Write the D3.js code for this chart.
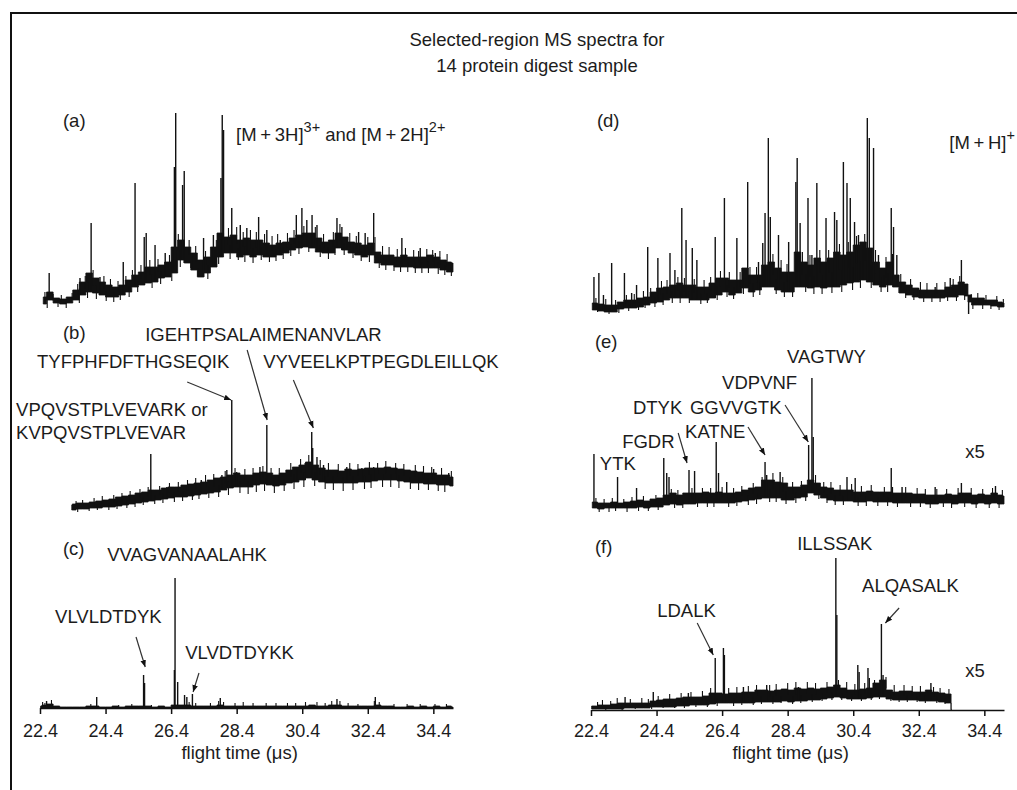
<!DOCTYPE html>
<html>
<head>
<meta charset="utf-8">
<script src="https://cdn.jsdelivr.net/npm/d3@7"></script>
<style>
  body { margin: 0; background: #fff; }
  svg { display: block; }
</style>
</head>
<body>
<svg id="chart" width="1017" height="790"></svg>
<script>
const FONT = '"Liberation Sans", Arial, sans-serif';

const tickValues = [22.4, 24.4, 26.4, 28.4, 30.4, 32.4, 34.4];
const titleLines = ['Selected-region MS spectra for', '14 protein digest sample'];
const axisTitle = 'flight time (\u03bcs)';

// noise band of each trace: [flight time, band low, band high]
const bandA = [[22.5,8,15],[22.7,12,20],[22.9,9,14],[23.1,8,13],[23.3,9,15],[23.5,12,22],[23.7,17,30],[23.9,20,39],[24.1,19,34],[24.3,17,30],[24.5,15,27],[24.7,15,25],[24.9,17,27],[25.1,20,32],[25.3,25,37],[25.5,27,40],[25.7,29,45],[25.9,30,45],[26.1,34,47],[26.3,35,50],[26.5,39,65],[26.7,52,72],[26.9,49,65],[27.1,42,59],[27.3,35,52],[27.5,39,55],[27.7,45,65],[27.9,55,79],[28.1,59,75],[28.3,59,77],[28.5,55,72],[28.7,57,74],[28.9,55,72],[29.1,57,72],[29.3,55,69],[29.5,55,67],[29.7,57,69],[29.9,59,70],[30.1,62,74],[30.3,64,77],[30.5,65,79],[30.7,64,79],[30.9,60,74],[31.1,59,70],[31.3,59,72],[31.5,64,79],[31.7,62,75],[31.9,59,70],[32.1,57,69],[32.3,55,67],[32.5,57,69],[32.7,49,60],[32.9,47,57],[33.1,47,57],[33.3,45,55],[33.5,45,57],[33.7,45,55],[33.9,44,55],[34.1,44,55],[34.3,44,57],[34.5,44,55],[34.7,42,52],[34.9,40,50],[35.0,40,49]];
const bandB = [[23.37,5,10],[23.4,5,11],[23.6,6,12],[23.8,6,12],[24.0,7,13],[24.2,7,14],[24.4,8,15],[24.6,8,16],[24.8,9,18],[25.0,10,19],[25.2,11,20],[25.4,12,22],[25.6,13,23],[25.8,14,25],[26.0,15,25],[26.2,16,27],[26.4,17,28],[26.6,18,28],[26.8,18,30],[27.0,19,31],[27.2,20,32],[27.4,21,33],[27.6,22,35],[27.8,23,37],[28.0,25,38],[28.2,27,40],[28.4,28,42],[28.6,28,40],[28.8,28,40],[29.0,30,42],[29.2,31,43],[29.4,30,42],[29.6,29,40],[29.8,30,42],[30.0,32,45],[30.2,33,48],[30.4,35,50],[30.6,37,53],[30.8,35,50],[31.0,33,47],[31.2,32,45],[31.4,32,45],[31.6,32,44],[31.8,32,46],[32.0,32,45],[32.2,33,46],[32.4,33,47],[32.6,34,47],[32.8,35,47],[33.0,35,48],[33.2,35,47],[33.4,34,46],[33.6,33,45],[33.8,32,44],[34.0,32,43],[34.2,31,42],[34.4,31,42],[34.6,30,40],[34.8,30,40],[35.0,29,38]];
const bandC = [[22.42,0,2],[22.5,0,3],[22.7,0,4],[22.9,0,2],[23.1,0,1],[23.3,0,1],[23.5,0,1],[23.7,0,1],[23.9,0,2],[24.1,0,2],[24.3,0,1],[24.5,0,1],[24.7,0,2],[24.9,0,1],[25.1,0,2],[25.3,0,2],[25.5,0,2],[25.7,0,2],[25.9,0,1],[26.1,0,2],[26.3,0,1],[26.5,0,3],[26.7,0,3],[26.9,0,3],[27.1,0,2],[27.3,0,2],[27.5,0,2],[27.7,0,2],[27.9,0,3],[28.1,0,2],[28.3,0,2],[28.5,0,2],[28.7,0,2],[28.9,0,2],[29.1,0,2],[29.3,0,2],[29.5,0,2],[29.7,0,2],[29.9,0,2],[30.1,0,2],[30.3,0,2],[30.5,0,2],[30.7,0,3],[30.9,0,2],[31.1,0,2],[31.3,0,3],[31.5,0,3],[31.7,0,2],[31.9,0,2],[32.1,0,2],[32.3,0,2],[32.5,0,2],[32.7,0,3],[32.9,0,2],[33.1,0,2],[33.3,0,1],[33.5,0,1],[33.7,0,2],[33.9,0,1],[34.1,0,2],[34.3,0,1],[34.5,0,2],[34.7,0,1],[34.9,0,2],[35.0,0,1]];
const bandD = [[22.44,2,9],[22.5,2,9],[22.7,1,8],[22.9,0,7],[23.1,0,7],[23.3,3,10],[23.5,4,12],[23.7,4,12],[23.9,5,14],[24.1,7,15],[24.3,9,20],[24.5,10,24],[24.7,12,25],[24.9,14,27],[25.1,14,29],[25.3,14,27],[25.5,12,27],[25.7,12,25],[25.9,12,25],[26.1,14,29],[26.3,17,34],[26.5,20,34],[26.7,17,32],[26.9,19,32],[27.1,24,44],[27.3,20,37],[27.5,22,37],[27.7,25,47],[27.9,25,50],[28.1,22,44],[28.3,20,40],[28.5,20,40],[28.7,25,60],[28.9,25,50],[29.1,24,47],[29.3,25,54],[29.5,24,50],[29.7,25,54],[29.9,25,60],[30.1,27,57],[30.3,29,60],[30.5,30,67],[30.7,32,70],[30.9,30,64],[31.1,27,50],[31.3,25,44],[31.5,27,50],[31.7,25,37],[31.9,19,30],[32.1,17,27],[32.3,15,24],[32.5,14,22],[32.7,14,22],[32.9,14,22],[33.1,14,22],[33.3,15,25],[33.5,15,27],[33.7,17,30],[33.88,16,28],[33.92,10,17],[34.1,7,14],[34.3,7,14],[34.5,7,12],[34.7,6,12],[34.9,5,10],[35.0,5,9]];
const bandE = [[22.44,7,13],[22.5,7,13],[22.7,6,12],[22.9,7,12],[23.1,7,13],[23.3,7,12],[23.5,7,13],[23.7,7,14],[23.9,8,15],[24.1,7,14],[24.3,8,16],[24.5,8,17],[24.7,10,20],[24.9,11,22],[25.1,10,20],[25.3,11,22],[25.5,11,22],[25.7,12,22],[25.9,12,23],[26.1,12,22],[26.3,12,23],[26.5,12,22],[26.7,12,22],[26.9,13,23],[27.1,14,25],[27.3,15,27],[27.5,16,28],[27.7,17,35],[27.9,17,35],[28.1,17,33],[28.3,15,32],[28.5,15,28],[28.7,17,28],[28.9,18,30],[29.1,22,35],[29.3,20,32],[29.5,17,28],[29.7,15,27],[29.9,14,25],[30.1,14,25],[30.3,14,25],[30.5,13,23],[30.7,13,23],[30.9,14,24],[31.1,13,23],[31.3,13,23],[31.5,13,23],[31.7,12,22],[31.9,12,22],[32.1,12,22],[32.3,12,21],[32.5,12,21],[32.7,11,20],[32.9,11,20],[33.1,12,20],[33.3,12,21],[33.5,11,20],[33.7,12,22],[33.9,12,22],[34.1,11,20],[34.3,12,21],[34.5,11,20],[34.7,12,22],[34.9,11,20],[35.0,11,19]];
const bandF = [[22.42,1,4],[22.5,1,4],[22.7,1,5],[22.9,1,5],[23.1,1,6],[23.3,1,7],[23.5,2,7],[23.7,2,7],[23.9,2,7],[24.1,2,7],[24.3,3,9],[24.5,3,10],[24.7,3,11],[24.9,3,11],[25.1,4,12],[25.3,4,13],[25.5,5,13],[25.7,5,13],[25.9,5,14],[26.1,6,17],[26.3,7,17],[26.5,7,16],[26.7,7,17],[26.9,7,17],[27.1,7,18],[27.3,7,18],[27.5,8,20],[27.7,8,20],[27.9,8,19],[28.1,8,20],[28.3,9,21],[28.5,8,20],[28.7,9,22],[28.9,9,21],[29.1,10,22],[29.3,10,21],[29.5,11,22],[29.7,12,23],[29.9,13,25],[30.1,12,22],[30.3,11,20],[30.5,11,20],[30.7,11,21],[30.9,12,22],[31.1,13,27],[31.3,13,30],[31.5,11,20],[31.7,10,18],[31.9,10,19],[32.1,10,19],[32.3,10,18],[32.5,9,18],[32.7,9,20],[32.9,9,18],[33.1,8,17],[33.3,7,16],[33.38,7,16],[33.39,0,1]];

// sharp peaks: [flight time, intensity]
const peaksA = [[22.68,39],[23.62,34],[23.96,89],[24.23,35],[24.94,50],[25.30,129],[25.58,75],[25.64,79],[25.91,67],[26.22,59],[26.50,145],[26.54,199],[26.75,127],[26.80,141],[27.03,59],[27.39,74],[27.69,77],[27.92,134],[27.96,197],[28.00,182],[28.25,104],[28.51,87],[28.71,84],[29.07,95],[29.32,82],[29.73,72],[30.22,97],[30.39,104],[30.54,92],[30.70,97],[30.85,87],[31.46,94],[31.61,85],[31.76,75],[32.12,80],[32.32,79],[32.58,99],[33.44,74],[34.00,64],[34.46,59]];
const peaksB = [[25.78,61],[26.27,28],[27.32,35],[27.95,40],[28.10,45],[28.25,115],[28.40,43],[29.11,48],[29.32,90],[30.24,48],[30.49,52],[30.69,83],[30.72,67],[30.85,58],[31.05,50],[31.76,48],[32.22,47],[32.58,48],[33.29,45],[34.41,46],[34.87,42]];
const peaksC = [[22.6,7],[24.13,11],[25.56,33],[25.59,25],[26.50,38],[26.52,130],[26.60,26],[26.81,13],[26.88,11],[27.05,14],[27.90,10],[31.46,9],[32.63,11]];
const peaksD = [[22.49,35],[22.64,39],[22.78,17],[23.03,49],[23.42,39],[23.64,19],[23.79,27],[24.13,65],[24.44,54],[24.81,59],[24.96,42],[25.17,104],[25.30,72],[25.49,64],[25.63,52],[26.19,75],[26.47,114],[26.85,74],[27.18,130],[27.51,50],[27.64,69],[27.71,99],[27.81,174],[27.87,95],[28.12,77],[28.43,70],[28.65,130],[28.69,154],[28.78,89],[29.02,114],[29.14,57],[29.29,129],[29.57,94],[29.83,100],[29.90,92],[30.10,150],[30.21,129],[30.31,114],[30.44,90],[30.56,77],[30.70,67],[30.83,194],[30.89,174],[31.02,164],[31.17,57],[31.33,37],[31.56,104],[31.63,85],[31.73,57],[32.39,24],[32.90,25],[33.36,34],[33.70,52],[33.92,-2]];
const peaksE = [[22.49,61],[23.21,38],[23.79,27],[24.62,57],[24.71,42],[24.78,38],[25.39,45],[25.56,44],[26.22,73],[26.29,42],[26.54,33],[27.71,53],[27.76,40],[28.17,43],[29.04,70],[29.14,137],[29.18,78],[30.21,38],[30.46,37],[31.56,47],[31.89,28],[32.90,28],[33.70,32],[34.74,29]];
const peaksF = [[23.44,13],[24.30,18],[25.37,17],[26.19,52],[26.44,62],[26.47,55],[27.05,23],[27.76,25],[28.73,23],[29.87,152],[29.90,95],[30.54,45],[30.58,38],[30.85,42],[30.89,32],[31.26,86],[31.31,35],[32.77,27]];

// small noise spikes on each trace: [flight time, tip intensity]
const fuzzA = [[22.55,20],[22.62,4],[22.8,18],[22.95,5],[23.05,17],[23.2,4],[23.38,19],[23.55,28],[23.6,9],[23.78,36],[23.85,14],[24.02,42],[24.12,13],[24.35,36],[24.42,11],[24.55,33],[24.65,10],[24.78,31],[24.85,12],[25.02,36],[25.12,15],[25.22,42],[25.38,20],[25.48,47],[25.75,52],[25.82,24],[26.0,53],[26.08,28],[26.35,57],[26.42,31],[26.62,78],[26.68,45],[26.95,72],[27.0,44],[27.15,66],[27.22,36],[27.45,61],[27.52,33],[27.78,72],[27.85,48],[28.15,84],[28.2,53],[28.4,85],[28.45,52],[28.6,80],[28.65,50],[28.82,82],[28.9,49],[29.0,80],[29.15,52],[29.25,78],[29.4,50],[29.48,76],[29.6,51],[29.65,78],[29.82,53],[29.95,79],[30.05,56],[30.15,82],[30.3,58],[30.45,86],[30.6,60],[30.8,85],[30.95,55],[31.05,78],[31.2,53],[31.35,80],[31.4,57],[31.55,88],[31.68,57],[31.85,79],[31.95,54],[32.05,76],[32.2,51],[32.4,75],[32.45,50],[32.62,75],[32.75,44],[32.85,66],[32.95,42],[33.05,65],[33.2,41],[33.3,63],[33.4,40],[33.55,64],[33.62,40],[33.8,62],[33.85,39],[33.95,61],[34.05,39],[34.2,63],[34.25,39],[34.38,62],[34.55,38],[34.6,61],[34.75,37],[34.82,58],[34.95,36]];
const fuzzB = [[23.5,14],[23.55,3],[23.7,15],[23.9,4],[24.05,17],[24.15,5],[24.3,19],[24.5,5],[24.65,20],[24.75,6],[24.9,22],[25.05,7],[25.15,24],[25.3,8],[25.45,26],[25.55,10],[25.7,28],[25.9,11],[26.05,29],[26.15,12],[26.35,32],[26.5,13],[26.62,33],[26.75,14],[26.9,35],[27.05,15],[27.15,37],[27.25,16],[27.45,40],[27.55,17],[27.7,41],[27.85,18],[28.05,44],[28.15,20],[28.35,47],[28.5,22],[28.65,46],[28.75,21],[28.9,47],[29.0,23],[29.2,49],[29.25,24],[29.45,47],[29.55,22],[29.7,47],[29.85,24],[30.05,52],[30.15,26],[30.35,56],[30.45,28],[30.6,60],[30.78,29],[30.95,55],[31.1,26],[31.2,52],[31.35,25],[31.5,51],[31.65,24],[31.85,52],[31.95,25],[32.1,51],[32.3,26],[32.45,53],[32.5,27],[32.7,52],[32.85,28],[32.95,54],[33.1,28],[33.25,52],[33.35,27],[33.5,51],[33.7,26],[33.85,50],[33.95,25],[34.1,49],[34.25,25],[34.35,48],[34.55,24],[34.65,47],[34.75,23],[34.95,44]];
const fuzzC = [[22.48,6],[22.55,5],[22.75,8],[23.95,4],[24.8,3],[25.2,4],[25.8,3],[26.95,6],[27.15,5],[27.6,5],[27.85,7],[28.0,6],[28.35,5],[28.6,6],[28.9,5],[29.3,5],[29.6,5],[29.95,5],[30.2,5],[30.5,6],[30.85,6],[31.1,5],[31.3,7],[31.55,7],[31.8,5],[32.1,4],[32.6,7],[32.75,6],[33.2,4],[33.6,4],[34.0,4],[34.45,4],[34.8,4]];
const fuzzD = [[22.55,14],[22.6,0],[22.85,13],[22.95,-2],[23.15,12],[23.25,-1],[23.48,17],[23.55,1],[23.72,18],[23.85,2],[24.0,21],[24.05,4],[24.22,24],[24.35,5],[24.55,31],[24.6,7],[24.72,32],[24.88,9],[25.05,35],[25.12,9],[25.25,34],[25.4,9],[25.55,33],[25.75,8],[25.85,32],[25.95,9],[26.05,35],[26.25,12],[26.35,41],[26.55,15],[26.62,40],[26.75,13],[26.95,40],[27.05,18],[27.25,45],[27.35,15],[27.45,45],[27.55,17],[27.95,58],[28.05,18],[28.2,52],[28.3,15],[28.38,48],[28.55,15],[28.85,60],[28.95,20],[29.08,57],[29.2,18],[29.38,62],[29.45,18],[29.65,62],[29.75,19],[29.98,68],[30.05,20],[30.25,70],[30.38,22],[30.5,76],[30.62,24],[30.75,78],[30.95,24],[31.08,62],[31.25,20],[31.4,55],[31.45,20],[31.6,58],[31.8,19],[31.85,38],[32.0,14],[32.15,33],[32.25,12],[32.45,30],[32.55,10],[32.65,29],[32.8,10],[32.95,29],[33.05,10],[33.2,30],[33.28,11],[33.45,33],[33.55,11],[33.65,36],[33.8,12],[34.0,18],[34.05,3],[34.2,19],[34.35,3],[34.45,17],[34.6,3],[34.78,16],[34.85,2],[34.98,13]];
const fuzzE = [[22.55,17],[22.65,3],[22.8,16],[22.95,3],[23.05,17],[23.15,4],[23.4,16],[23.5,3],[23.65,18],[23.85,4],[24.0,19],[24.15,4],[24.38,20],[24.45,5],[24.85,26],[24.95,7],[25.05,25],[25.2,7],[25.48,27],[25.65,8],[25.8,27],[25.95,8],[26.05,27],[26.15,8],[26.4,28],[26.6,8],[26.75,27],[26.85,9],[27.0,29],[27.2,10],[27.35,32],[27.45,11],[27.62,38],[27.85,13],[27.95,42],[28.05,13],[28.25,38],[28.35,11],[28.55,33],[28.65,12],[28.82,34],[28.95,14],[29.25,40],[29.35,16],[29.5,33],[29.6,12],[29.72,33],[29.85,10],[30.0,30],[30.1,10],[30.35,31],[30.55,9],[30.65,29],[30.8,9],[30.95,30],[31.15,9],[31.35,28],[31.45,9],[31.6,28],[31.75,8],[32.0,28],[32.15,8],[32.35,27],[32.45,8],[32.6,26],[32.75,7],[32.95,26],[33.15,8],[33.25,26],[33.4,7],[33.6,27],[33.8,8],[34.0,27],[34.15,7],[34.35,26],[34.55,7],[34.65,27],[34.85,7],[34.95,25]];
const fuzzF = [[22.6,8],[22.75,10],[22.85,0],[23.0,9],[23.2,12],[23.35,0],[23.6,11],[23.75,1],[23.95,12],[24.15,11],[24.25,1],[24.45,14],[24.6,2],[24.8,16],[24.95,2],[25.15,17],[25.25,2],[25.45,18],[25.6,3],[25.8,19],[25.95,3],[26.05,22],[26.25,4],[26.6,22],[26.75,4],[26.85,23],[27.0,5],[27.2,24],[27.35,5],[27.45,25],[27.6,6],[27.85,25],[27.95,6],[28.05,26],[28.2,7],[28.4,27],[28.55,6],[28.65,28],[28.8,7],[29.0,28],[29.15,8],[29.25,27],[29.45,9],[29.6,28],[29.75,10],[29.95,30],[30.05,10],[30.2,28],[30.35,9],[30.45,26],[30.65,9],[30.75,27],[30.95,10],[31.05,30],[31.2,11],[31.4,33],[31.55,9],[31.65,25],[31.8,8],[31.95,25],[32.05,8],[32.2,24],[32.35,8],[32.45,24],[32.6,7],[32.85,23],[32.95,7],[33.05,22],[33.2,6],[33.32,21]];

// labels, in the panel's own units: [time, intensity, text]
const labelsA = [[23.10,185,'(a)']];
const labelsB = [[23.10,176,'(b)'],[25.61,174,'IGEHTPSALAIMENANVLAR'],[22.31,147,'TYFPHFDFTHGSEQIK'],[29.21,147,'VYVEELKPTPEGDLEILLQK'],[21.67,99,'VPQVSTPLVEVARK or'],[21.67,76,'KVPQVSTPLVEVAR']];
const labelsC = [[23.10,153,'(c)'],[24.45,147,'VVAGVANAALAHK'],[22.86,85,'VLVLDTDYK'],[26.83,49,'VLVDTDYKK']];
const labelsD = [[22.58,185,'(d)']];
const labelsE = [[22.52,167,'(e)'],[28.38,152,'VAGTWY'],[26.40,126,'VDPVNF'],[23.68,101,'DTYK'],[25.42,101,'GGVVGTK'],[25.27,77,'KATNE'],[23.35,67,'FGDR'],[22.67,45,'YTK'],[33.82,57,'x5']];
const labelsF = [[22.52,157,'(f)'],[28.69,160,'ILLSSAK'],[30.67,118,'ALQASALK'],[24.42,93,'LDALK'],[33.82,33,'x5']];

// ion labels with superscripts (thin spaces round the plus signs)
const ionA = [28.38, 171, [['[M\u2009+\u20093H]'], ['3+', true], [' and [M\u2009+\u20092H]'], ['2+', true]]];
const ionD = [33.33, 163, [['[M\u2009+\u2009H]'], ['+', true]]];

// arrows: [from time, from intensity, to time, to intensity]
const arrowsB = [[26.89,133,28.23,115],[28.72,165,29.33,95],[30.13,135,30.74,87]];
const arrowsC = [[25.33,71,25.61,41],[27.25,35,27.07,16]];
const arrowsE = [[25.06,82,25.33,52],[27.19,88,27.71,60],[28.32,110,29.03,73]];
const arrowsF = [[25.64,87,26.13,55],[31.80,102,31.38,87]];

const svg = d3.select('#chart');
const INK = '#111';
const TXT = '#1c1c1c';

// frame (cropped on right and bottom)
svg.append('path')
  .attr('d', 'M11,790V13H1017')
  .attr('fill', 'none')
  .attr('stroke', INK)
  .attr('stroke-width', 2);

svg.append('defs').append('marker')
  .attr('id', 'head')
  .attr('viewBox', '0 0 10 10')
  .attr('refX', 10).attr('refY', 5)
  .attr('markerWidth', 7).attr('markerHeight', 7)
  .attr('markerUnits', 'userSpaceOnUse')
  .attr('orient', 'auto')
  .append('path').attr('d', 'M0,1L10,5L0,9Z').attr('fill', INK);

// title
svg.append('text')
  .attr('x', 537).attr('y', 46)
  .attr('text-anchor', 'middle')
  .attr('font-family', FONT).attr('font-size', 18.5).attr('fill', TXT)
  .selectAll('tspan').data(titleLines).enter().append('tspan')
  .attr('x', 537).attr('dy', (d, i) => i ? 26 : 0)
  .text(d => d);

const xLeft = d3.scaleLinear().domain([22.4, 35.0]).range([40, 453]);
const xRight = d3.scaleLinear().domain([22.4, 35.0]).range([591, 1004]);

const panels = [
  { x: xLeft, base: 312, band: bandA, peaks: peaksA, fuzz: fuzzA, labels: labelsA, arrows: [], ion: ionA },
  { x: xLeft, base: 515, band: bandB, peaks: peaksB, fuzz: fuzzB, labels: labelsB, arrows: arrowsB },
  { x: xLeft, base: 708, band: bandC, peaks: peaksC, fuzz: fuzzC, labels: labelsC, arrows: arrowsC },
  { x: xRight, base: 312, band: bandD, peaks: peaksD, fuzz: fuzzD, labels: labelsD, arrows: [], ion: ionD },
  { x: xRight, base: 515, band: bandE, peaks: peaksE, fuzz: fuzzE, labels: labelsE, arrows: arrowsE },
  { x: xRight, base: 710, band: bandF, peaks: peaksF, fuzz: fuzzF, labels: labelsF, arrows: arrowsF }
];

const bis = d3.bisector(d => d[0]).center;

panels.forEach(p => {
  const x = p.x;
  const y = d3.scaleLinear().domain([0, 200]).range([p.base, p.base - 200]);
  const g = svg.append('g');
  const near = t => p.band[bis(p.band, t)];

  // noise band
  g.append('path')
    .datum(p.band)
    .attr('d', d3.area().curve(d3.curveStep).x(d => x(d[0])).y0(d => y(d[1])).y1(d => y(d[2])))
    .attr('fill', INK)
    .attr('stroke', INK)
    .attr('stroke-width', 0.8);

  // noise spikes
  g.selectAll('line.fz')
    .data(p.fuzz)
    .enter().append('line')
    .attr('class', 'fz')
    .attr('x1', d => x(d[0])).attr('x2', d => x(d[0]))
    .attr('y1', d => { const b = near(d[0]); return y((b[1] + b[2]) / 2); })
    .attr('y2', d => y(d[1]))
    .attr('stroke', INK)
    .attr('stroke-width', 1.1);

  // peaks
  g.selectAll('line.pk')
    .data(p.peaks)
    .enter().append('line')
    .attr('class', 'pk')
    .attr('x1', d => x(d[0])).attr('x2', d => x(d[0]))
    .attr('y1', d => y(near(d[0])[1]))
    .attr('y2', d => y(d[1]))
    .attr('stroke', INK)
    .attr('stroke-width', 1.4);

  // labels
  g.selectAll('text.lb')
    .data(p.labels)
    .enter().append('text')
    .attr('class', 'lb')
    .attr('x', d => x(d[0])).attr('y', d => y(d[1]))
    .attr('font-family', FONT).attr('font-size', 18.5).attr('fill', TXT)
    .text(d => d[2]);

  if (p.ion) {
    const t = g.append('text')
      .attr('x', x(p.ion[0])).attr('y', y(p.ion[1]))
      .attr('font-family', FONT).attr('font-size', 18.5).attr('fill', TXT);
    let up = false;
    p.ion[2].forEach(part => {
      const sup = !!part[1];
      t.append('tspan')
        .attr('dy', sup && !up ? -9 : (!sup && up ? 9 : 0))
        .attr('font-size', sup ? 14.5 : 18.5)
        .text(part[0]);
      up = sup;
    });
  }

  g.selectAll('line.ar')
    .data(p.arrows)
    .enter().append('line')
    .attr('class', 'ar')
    .attr('x1', d => x(d[0])).attr('y1', d => y(d[1]))
    .attr('x2', d => x(d[2])).attr('y2', d => y(d[3]))
    .attr('stroke', '#333')
    .attr('stroke-width', 1.2)
    .attr('marker-end', 'url(#head)');
});

// bottom axes
function drawAxis(x, yPos, pad) {
  const ax = svg.append('g')
    .attr('transform', `translate(0,${yPos})`)
    .attr('font-family', FONT)
    .call(d3.axisBottom(x)
      .tickValues(tickValues)
      .tickFormat(d3.format('.1f'))
      .tickSizeInner(6)
      .tickSizeOuter(0)
      .tickPadding(pad));
  ax.select('.domain').attr('stroke', INK).attr('stroke-width', 1.5);
  ax.selectAll('.tick line').attr('stroke', INK).attr('stroke-width', 1.5);
  ax.selectAll('.tick text').attr('font-size', 18).attr('fill', TXT);

  const r = x.range();
  svg.append('text')
    .attr('x', (r[0] + x(34.4)) / 2 + 3).attr('y', 759)
    .attr('text-anchor', 'middle')
    .attr('font-family', FONT).attr('font-size', 18.5).attr('fill', TXT)
    .text(axisTitle);
}
drawAxis(xLeft, 708, 10);
drawAxis(xRight, 710, 8);
</script>
</body>
</html>
